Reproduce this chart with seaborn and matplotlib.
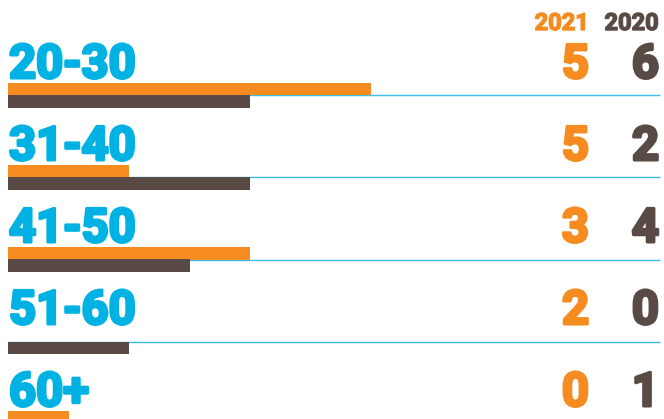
import matplotlib
matplotlib.use("Agg")
import matplotlib.pyplot as plt
import matplotlib.transforms as mtransforms
import matplotlib.patheffects as pe
import seaborn as sns
import pandas as pd

# ---- data ----
age_groups = ["20-30", "31-40", "41-50", "51-60", "60+"]
count_2021 = [5, 5, 3, 2, 0]
count_2020 = [6, 2, 4, 0, 1]
bar_orange = [6, 2, 4, 0, 1]
bar_brown = [4, 4, 3, 2, 0]
years = ["2021", "2020"]

CYAN = "#00B2E3"
ORANGE = "#F68B1F"
BROWN = "#594A45"
LINE = "#3BBDE6"

sns.set_theme(style="white")
plt.rcParams["font.family"] = ["Roboto", "DejaVu Sans"]

df = pd.DataFrame({
    "row": age_groups * 2,
    "value": bar_orange + bar_brown,
    "series": ["orange"] * len(age_groups) + ["brown"] * len(age_groups),
})

fig = plt.figure(figsize=(6.64, 4.19), dpi=100)
ax = fig.add_axes([0, 0, 1, 1])

sns.barplot(data=df, x="value", y="row", hue="series", order=age_groups,
            hue_order=["orange", "brown"], palette={"orange": ORANGE, "brown": BROWN},
            orient="h", dodge=True, width=0.293, saturation=1, linewidth=0,
            legend=False, ax=ax, zorder=2)

unit = 60.5
ax.set_xlim(-8 / unit, (664 - 8) / unit)
ax.set_ylim((419 - 95.5) / 82, -95.5 / 82)
ax.axis("off")

ypos = list(range(len(age_groups)))
ax.hlines(ypos, 0, (660 - 8) / unit, color=LINE, linewidth=1.0, zorder=1)

trans = mtransforms.blended_transform_factory(ax.transAxes, ax.transData)
off = -17.5 / 82
fs = 34


def heavy(color, lw=2.2):
    return [pe.withStroke(linewidth=lw, foreground=color)]


for i, lab in enumerate(age_groups):
    ax.text(9 / 664, i + off, lab, transform=trans, ha="left", va="baseline",
            color=CYAN, fontsize=fs, fontweight="bold", path_effects=heavy(CYAN))
    ax.text(589 / 664, i + off, str(count_2021[i]), transform=trans, ha="right",
            va="baseline", color=ORANGE, fontsize=fs, fontweight="bold",
            path_effects=heavy(ORANGE))
    ax.text(659 / 664, i + off, str(count_2020[i]), transform=trans, ha="right",
            va="baseline", color=BROWN, fontsize=fs, fontweight="bold",
            path_effects=heavy(BROWN))

hy = (30 - 95.5) / 82
ax.text(589 / 664, hy, years[0], transform=trans, ha="right", va="baseline",
        color=ORANGE, fontsize=17, fontweight="bold", path_effects=heavy(ORANGE, 1.0))
ax.text(659 / 664, hy, years[1], transform=trans, ha="right", va="baseline",
        color=BROWN, fontsize=17, fontweight="bold", path_effects=heavy(BROWN, 1.0))

fig.savefig("out.png", dpi=100)
